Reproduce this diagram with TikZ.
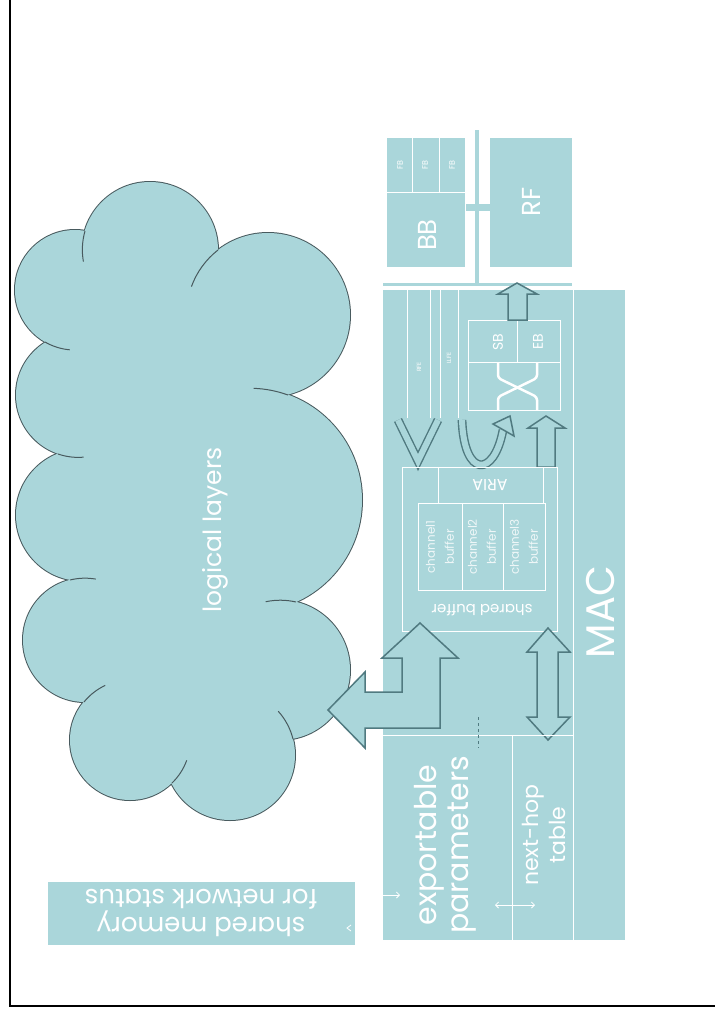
\documentclass[tikz,border=0pt]{standalone}
\usepackage{fontspec}
\setmainfont{Poppins}
\usetikzlibrary{calc, positioning}
\usetikzlibrary{arrows.meta}

\definecolor{macfill}{RGB}{170,214,218}
\definecolor{arrowedge}{RGB}{80,122,128}
\definecolor{cloudedge}{RGB}{72,90,94}

\begin{document}
\begin{tikzpicture}[x=1pt, y=-1pt,
  block/.style={fill=macfill},
  thinline/.style={draw=white, line width=0.8pt},
  hollow/.style={draw=arrowedge, line width=1.5pt, fill=macfill, line join=miter},
  hollowline/.style={draw=arrowedge, line width=1.4pt, double=macfill, double distance=6pt, line join=miter},
  puffarc/.style={draw=cloudedge, line width=1pt},
  lbl/.style={text=white, inner sep=0pt, align=center}]
\useasboundingbox (0,0) rectangle (715,1015);
\def\puffs{75/290/60, 150/250/68, 268/315/82, 250/500/112, 280/670/70, 230/755/65, 130/740/60, 85/640/62, 82/515/66, 78/395/62}

% frame
\draw[line width=2.5pt] (10,0) -- (10,1006) -- (715,1006);

% cloud
\foreach \cx/\cy/\r in \puffs
  \fill[cloudedge] (\cx,\cy) circle[radius=\r+1];
\foreach \cx/\cy/\r in \puffs
  \fill[macfill] (\cx,\cy) circle[radius=\r];
\fill[macfill] (75,290) -- (150,250) -- (268,315) -- (250,500) -- (280,670) -- (230,755)
  -- (130,740) -- (85,640) -- (82,515) -- (78,395) -- cycle;
% inner puff arcs
\draw[puffarc] (85,231) arc[start angle=196, end angle=170, radius=68];
\draw[puffarc] (218,250) arc[start angle=232, end angle=200, radius=82];
\draw[puffarc] (288,395) arc[start angle=290, end angle=272, radius=112];
\draw[puffarc] (296,602) arc[start angle=283, end angle=258, radius=70];
\draw[puffarc] (293,739) arc[start angle=346, end angle=318, radius=65];
\draw[puffarc] (172,783) arc[start angle=46, end angle=20, radius=60];
\draw[puffarc] (84,702) arc[start angle=219, end angle=245, radius=60];
\draw[puffarc] (70,580) arc[start angle=256, end angle=280, radius=62];
\draw[puffarc] (58,454) arc[start angle=109, end angle=85, radius=62];
\draw[puffarc] (45,342) arc[start angle=120, end angle=95, radius=60];
\node[lbl, rotate=90, font=\fontsize{25}{28}\selectfont] (logic) at (215,530) {logical layers};

% shared memory
\fill[block] (48,882) rectangle (355,945);
\node[lbl, rotate=180, font=\fontsize{26}{28}\selectfont] (shmem) at (201,913) {shared memory\\for network status};

% BB and RF
\fill[block] (387,138) rectangle (465,267);
\draw[thinline] (387,192) -- (465,192) (412,138) -- (412,192) (439,138) -- (439,192);
\foreach \fx [count=\i] in {400,425,452}
  \node[lbl, rotate=90, font=\fontsize{8}{9}\selectfont] (fb\i) at (\fx,165) {FB};
\node[lbl, rotate=90, font=\fontsize{26}{30}\selectfont] (bb) at (427,235) {BB};
\fill[block] (490,138) rectangle (572,267);
\node[lbl, rotate=90, font=\fontsize{26}{30}\selectfont] (rf) at (531,202) {RF};

% bus
\coordinate (bustop) at (477,130);
\coordinate (busjoin) at (477,284);
\coordinate (busleft) at (383,284);
\coordinate (busright) at (572,284);
\draw[macfill, line width=3.5pt] (bustop) -- (busjoin);
\draw[macfill, line width=3pt] (busleft) -- (busright);
\fill[macfill] (466,204) rectangle (490,211);

% MAC block
\fill[block] (383,290) rectangle (625,940);
\draw[thinline] (573,290) -- (573,940);
\foreach \lx in {407,430,440,458}
  \draw[thinline] (\lx,290) -- (\lx,418);
\node[lbl, rotate=90, font=\fontsize{6}{7}\selectfont] (rfe) at (419,367) {RFE};
\node[lbl, rotate=90, font=\fontsize{6}{7}\selectfont] (llfe) at (449,358) {LLFE};
\node[lbl, rotate=90, font=\fontsize{40}{44}\selectfont] (mac) at (600,612) {MAC};

% SB / EB switch
\draw[thinline] (468,320) rectangle (560,410);
\draw[thinline] (468,362) -- (560,362) (517,320) -- (517,362);
\node[lbl, rotate=90, font=\fontsize{14}{16}\selectfont] (sb) at (498,342) {SB};
\node[lbl, rotate=90, font=\fontsize{14}{16}\selectfont] (eb) at (538,342) {EB};
\draw[white, line width=2.5pt, rounded corners=3pt] (498,362) -- (498,378) -- (537,397) -- (537,410);
\draw[white, line width=2.5pt, rounded corners=3pt] (537,362) -- (537,378) -- (498,397) -- (498,410);

% arrow up to RF
\draw[hollow] (517,283) -- (537,294) -- (527,294) -- (527,320) -- (508,320) -- (508,294) -- (498,294) -- cycle;

% arrows above ARIA
\draw[hollowline] (398,420) -- (418,461) -- (438,420);
\draw[hollowline] (462,420) .. controls (464,478) and (494,478) .. (503,430);
\draw[hollow] (510,416) -- (514,436) -- (493,424) -- cycle;
\draw[hollow] (546,416) -- (565,428) -- (555,428) -- (555,467) -- (537,467) -- (537,428) -- (528,428) -- cycle;

% shared buffer
\draw[thinline] (402,467) rectangle (557,631);
\draw[thinline] (438,467) -- (438,503) (543,467) -- (543,503);
\draw[thinline] (418,503) rectangle (545,590);
\draw[thinline] (462,503) -- (462,590) (503,503) -- (503,590);
\node[lbl, rotate=180, font=\fontsize{16}{18}\selectfont] (aria) at (490,485) {ARIA};
\foreach \chx [count=\i] in {440,482,524}
  \node[lbl, text opacity=0.8, rotate=90, font=\fontsize{12}{19}\selectfont] (chan\i) at (\chx,547) {channel\i\\buffer};
\node[lbl, rotate=180, font=\fontsize{15}{17}\selectfont] (shbuf) at (482,610) {shared buffer};

% bent arrow to the cloud
\draw[hollow] (420,623) -- (458,658) -- (440,658) -- (440,728) -- (365,728) -- (365,748) -- (328,710)
  -- (365,672) -- (365,692) -- (402,692) -- (402,658) -- (382,658) -- cycle;

% double arrow to the table
\draw[hollow] (548,628) -- (570,652) -- (558,652) -- (558,717) -- (570,717) -- (548,740) -- (527,717)
  -- (537,717) -- (537,652) -- (527,652) -- cycle;

% exportable parameters and next-hop table
\draw[thinline] (383,735) -- (573,735);
\draw[thinline] (512,735) -- (512,940);
\node[lbl, rotate=90, font=\fontsize{30}{32}\selectfont] (export) at (445,845) {exportable\\parameters};
\node[lbl, rotate=90, font=\fontsize{22}{27}\selectfont] (nexthop) at (544,835) {next-hop\\table};

% small links
\coordinate (linktop) at (478,717);
\coordinate (linkbot) at (478,748);
\draw[arrowedge, line width=0.8pt, dashed] (linktop) -- (linkbot);
\coordinate (memlinka) at (383,895);
\coordinate (memlinkb) at (400,895);
\draw[white, line width=0.8pt, -{Straight Barb[length=3pt]}] (memlinka) -- (memlinkb);
\coordinate (tablinka) at (495,905);
\coordinate (tablinkb) at (535,905);
\draw[white, line width=0.8pt, {Straight Barb[length=3pt]}-{Straight Barb[length=3pt]}] (tablinka) -- (tablinkb);
\coordinate (memtip) at (347,928);
\draw[white, line width=0.8pt] ($(memtip)+(4,-3)$) -- (memtip) -- ($(memtip)+(4,3)$);
\end{tikzpicture}
\end{document}
